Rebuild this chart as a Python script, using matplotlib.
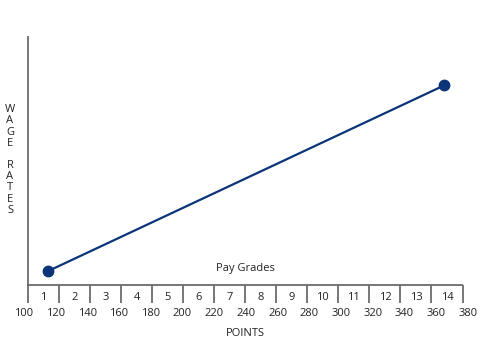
import matplotlib
matplotlib.use("Agg")
import matplotlib.pyplot as plt
import numpy as np

plt.rcParams['font.family'] = ['Open Sans', 'DejaVu Sans']

# data
points_x = [115, 365]
wage_y = [5.5, 80.5]
grade_labels = [str(i) for i in range(1, 15)]
point_ticks = list(range(100, 381, 20))

line_color = '#0b3479'
axis_color = '#6b6b6b'
text_color = '#222222'
fs = 8

fig = plt.figure(figsize=(4.8, 3.4), dpi=100)
ax = fig.add_axes([28/480, 55/340, 434.5/480, 248/340])
ax.set_xlim(102.7, 376.5)
ax.set_ylim(0, 100)

ax.plot(points_x, wage_y, color=line_color, lw=1.6, marker='o', ms=7.5,
        markerfacecolor=line_color, markeredgecolor=line_color, clip_on=False)

for s in ['top', 'right']:
    ax.spines[s].set_visible(False)
for s in ['left', 'bottom']:
    ax.spines[s].set_color(axis_color)
    ax.spines[s].set_linewidth(1.3)
ax.set_xticks([])
ax.set_yticks([])

# grade dividers & labels (axes fraction along x, pixels below axis)
n = len(grade_labels)
trans = ax.get_xaxis_transform()
for k in range(n + 1):
    ax.plot([k / n, k / n], [0, -18 / 248], transform=ax.transAxes,
            color=axis_color, lw=1.3, clip_on=False, solid_capstyle='butt')
for k, lab in enumerate(grade_labels):
    ax.text((k + 0.5) / n, -12 / 248, lab, transform=ax.transAxes,
            ha='center', va='center', fontsize=fs, color=text_color)

for v in point_ticks:
    ax.text(v, -29 / 248, str(v), transform=trans, ha='center', va='center',
            fontsize=fs, color=text_color)

fig.text(245 / 480, 1 - 333 / 340, 'POINTS', ha='center', va='center',
         fontsize=fs, color=text_color)
fig.text(245 / 480, 1 - 269 / 340, 'Pay Grades', ha='center', va='center',
         fontsize=fs, color=text_color)

fig.text(10 / 480, 1 - 160 / 340, 'W\nA\nG\nE\n\nR\nA\nT\nE\nS',
         ha='center', va='center', fontsize=fs, color=text_color,
         linespacing=1.02, multialignment='center')

fig.savefig('out.png', dpi=100, facecolor='white')
